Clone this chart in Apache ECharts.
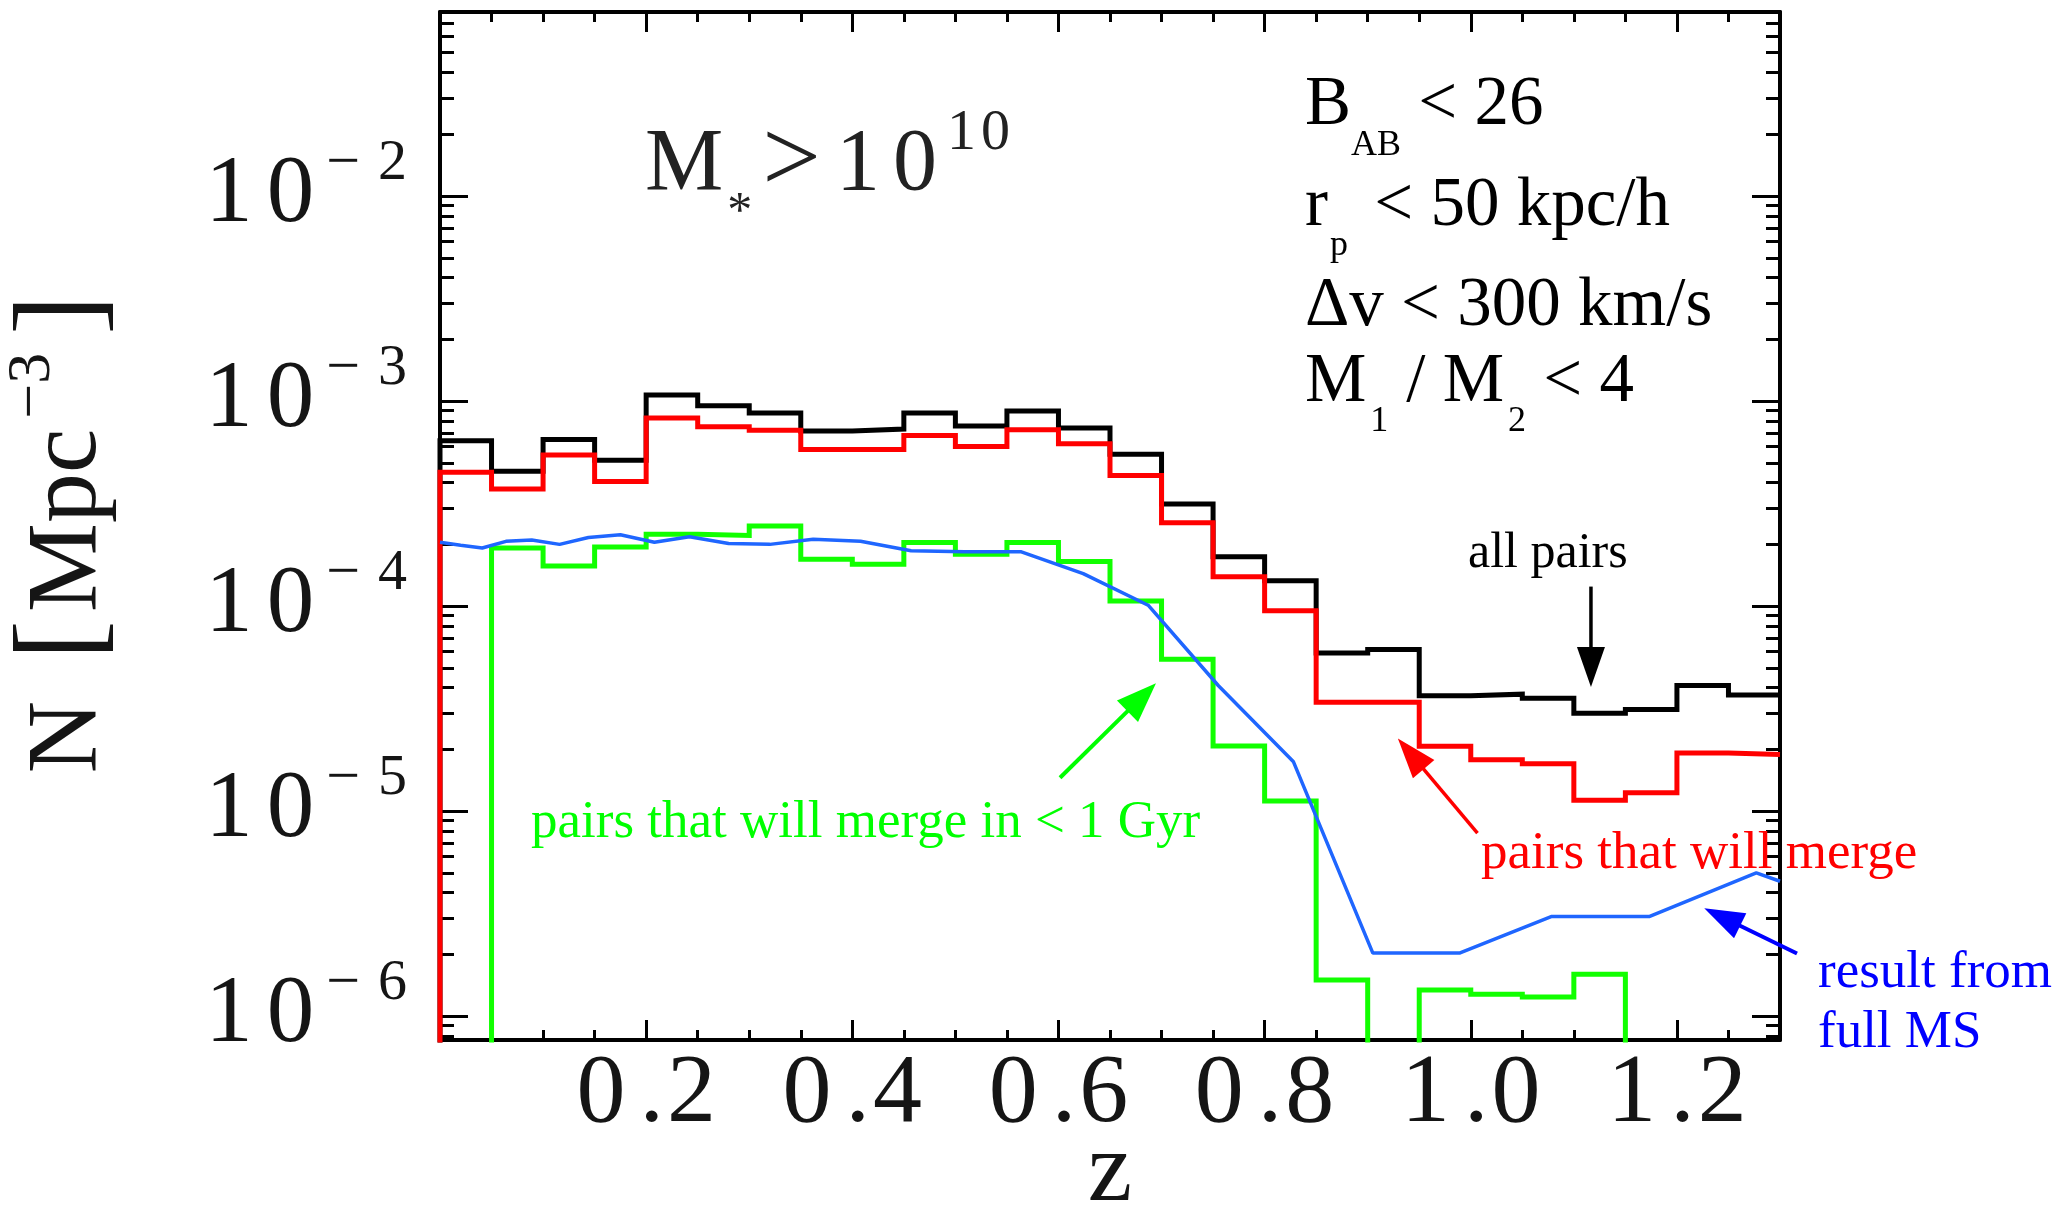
<!DOCTYPE html>
<html><head><meta charset="utf-8">
<script src="https://cdn.jsdelivr.net/npm/echarts@6/dist/echarts.min.js"></script>
<style>html,body{margin:0;padding:0;background:#fff}#c{width:2063px;height:1205px}</style>
</head><body><div id="c"></div>
<script>
// ---- data ----
const binEdges = [0,0.05,0.1,0.15,0.2,0.25,0.3,0.35,0.4,0.45,0.5,0.55,0.6,0.65,0.7,0.75,0.8,0.85,0.9,0.95,1.0,1.05,1.1,1.15,1.2,1.25];
const zMax = 1.3;
const allPairs  = [6.4e-4,4.55e-4,6.5e-4,5.15e-4,1.07e-3,9.5e-4,8.75e-4,7.15e-4,7.3e-4,8.75e-4,7.55e-4,8.95e-4,7.4e-4,5.5e-4,3.15e-4,1.74e-4,1.33e-4,5.9e-5,6.15e-5,3.65e-5,3.72e-5,3.55e-5,3.0e-5,3.13e-5,4.1e-5,3.68e-5];
const willMerge = [4.5e-4,3.72e-4,5.45e-4,4.05e-4,8.26e-4,7.5e-4,7.2e-4,5.8e-4,5.8e-4,6.8e-4,6.0e-4,7.25e-4,6.2e-4,4.33e-4,2.55e-4,1.39e-4,9.5e-5,3.4e-5,3.4e-5,2.07e-5,1.78e-5,1.7e-5,1.13e-5,1.23e-5,1.92e-5,1.89e-5];
const merge1Gyr = [0,1.92e-4,1.57e-4,1.94e-4,2.24e-4,2.21e-4,2.46e-4,1.69e-4,1.6e-4,2.04e-4,1.79e-4,2.04e-4,1.65e-4,1.06e-4,5.5e-5,2.08e-5,1.12e-5,1.5e-6,0,1.34e-6,1.28e-6,1.24e-6,1.6e-6,0,0,0];
const msZ = [0,0.020,0.041,0.064,0.089,0.116,0.144,0.175,0.208,0.242,0.280,0.320,0.362,0.408,0.457,0.509,0.564,0.624,0.687,0.755,0.828,0.905,0.989,1.078,1.173,1.277,1.30];
const msN = [2.05e-4,1.98e-4,1.92e-4,2.07e-4,2.10e-4,2.00e-4,2.16e-4,2.23e-4,2.05e-4,2.18e-4,2.02e-4,2.00e-4,2.12e-4,2.07e-4,1.86e-4,1.84e-4,1.84e-4,1.44e-4,1.01e-4,4.1e-5,1.74e-5,2.03e-6,2.03e-6,3.06e-6,3.06e-6,5.0e-6,4.55e-6];
const xMajorTicks = [0.2,0.4,0.6,0.8,1.0,1.2];
const xMinorTicks = [0.05,0.1,0.15,0.25,0.3,0.35,0.45,0.5,0.55,0.65,0.7,0.75,0.85,0.9,0.95,1.05,1.1,1.15,1.25];
const yMajorTicks = [1e-6,1e-5,1e-4,1e-3,1e-2];
const yMinorTicks = [8e-7,9e-7,
  2e-6,3e-6,4e-6,5e-6,6e-6,7e-6,8e-6,9e-6,
  2e-5,3e-5,4e-5,5e-5,6e-5,7e-5,8e-5,9e-5,
  2e-4,3e-4,4e-4,5e-4,6e-4,7e-4,8e-4,9e-4,
  2e-3,3e-3,4e-3,5e-3,6e-3,7e-3,8e-3,9e-3,
  2e-2,3e-2,4e-2,5e-2,6e-2,7e-2];
const yMin = 7.65e-7, yMax = 0.079;
// annotation arrows in data coordinates [tail, head]
const arrowAll   = [[1.1166,1.245e-4],[1.1166,4.03e-5]];
const arrowGyr   = [[0.6015,1.455e-5],[0.6946,4.21e-5]];
const arrowMerge = [[1.0065,7.82e-6],[0.9293,2.26e-5]];
const arrowMS    = [[1.3165,2.02e-6],[1.2265,3.36e-6]];

// ---- helpers ----
const FLOOR = 1e-9; // empty bins (drawn below the axis)
function stepData(vals){
  const d = [[0, FLOOR]];
  vals.forEach((v,i)=>d.push([binEdges[i], v>0?v:FLOOR]));
  const last = vals[vals.length-1];
  d.push([zMax, last>0?last:FLOOR]);
  return d;
}
const SERIF = '"Liberation Serif","DejaVu Serif",serif';
const BLACK = '#000';
const INK = '#151515';

function xAx(pos, ticks, len, main){
  const lab = main && pos==='bottom';
  return {type:'value', min:0, max:zMax, position:pos,
    axisLine:{show:!!main, onZero:false, lineStyle:{color:BLACK,width:4}},
    axisTick:{show:true, inside:true, length:len, customValues:ticks, lineStyle:{color:BLACK,width:3}},
    axisLabel: lab ? {show:true, customValues:xMajorTicks, margin:6,
        formatter:v=>{const s=v.toFixed(1); return '{d|'+s[0]+'}{p|.}{e|'+s[2]+'}';},
        rich:{d:{fontFamily:SERIF,fontSize:98,lineHeight:98,color:INK},
              p:{fontFamily:SERIF,fontSize:98,lineHeight:98,color:INK,padding:[0,0,0,14]},
              e:{fontFamily:SERIF,fontSize:98,lineHeight:98,color:INK,padding:[0,0,0,3]}}} : {show:false},
    splitLine:{show:false},
    name: lab ? 'z' : '',
    nameLocation:'middle', nameGap:84, nameMoveOverlap:false,
    nameTextStyle:{fontFamily:SERIF, fontSize:100, lineHeight:100, color:INK}
  };
}
function yAx(pos, ticks, len, main){
  const left = main && pos==='left';
  return {type:'log', logBase:10, min:yMin, max:yMax, position:pos,
    axisLine:{show:!!main, onZero:false, lineStyle:{color:BLACK,width:4}},
    axisTick:{show:true, inside:true, length:len, customValues:ticks, lineStyle:{color:BLACK,width:3}},
    axisLabel: left ? {show:true, customValues:yMajorTicks, margin:33,
        formatter:v=>'{a|1}{b|0}{m|\u2212}{e|'+Math.round(-Math.log10(v))+'}',
        rich:{a:{fontFamily:SERIF,fontSize:95,lineHeight:123,verticalAlign:'top',padding:[14,0,0,0],color:INK},
              b:{fontFamily:SERIF,fontSize:95,verticalAlign:'top',padding:[14,0,0,14],color:INK},
              m:{fontFamily:SERIF,fontSize:60,verticalAlign:'top',padding:[0,0,0,12],color:INK},
              e:{fontFamily:SERIF,fontSize:58,verticalAlign:'top',padding:[0,0,0,18],color:INK}}} : {show:false},
    splitLine:{show:false}, minorTick:{show:false}
  };
}

const chart = echarts.init(document.getElementById('c'), null, {renderer:'canvas'});
const lineBase = {type:'line', xAxisIndex:0, yAxisIndex:0, showSymbol:false, symbol:'none', step:'end', clip:true, animation:false};
chart.setOption({
  animation:false,
  backgroundColor:'#fff',
  grid:{left:440, top:12, width:1340, height:1028, containLabel:false, outerBoundsMode:'none'},
  xAxis:[xAx('bottom', xMajorTicks, 20, true), xAx('bottom', xMinorTicks, 10, false),
         xAx('top', xMajorTicks, 20, true), xAx('top', xMinorTicks, 10, false)],
  yAxis:[yAx('left', yMajorTicks, 28, true), yAx('left', yMinorTicks, 14, false),
         yAx('right', yMajorTicks, 28, true), yAx('right', yMinorTicks, 14, false)],
  series:[
    Object.assign({}, lineBase, {name:'all pairs', data:stepData(allPairs), lineStyle:{color:'#000', width:5, join:'miter', cap:'butt'}, z:3}),
    Object.assign({}, lineBase, {name:'pairs that will merge', data:stepData(willMerge), lineStyle:{color:'#ff0000', width:5, join:'miter', cap:'butt'}, z:4}),
    Object.assign({}, lineBase, {name:'pairs that will merge in < 1 Gyr', data:stepData(merge1Gyr), lineStyle:{color:'#11ff00', width:5, join:'miter', cap:'butt'}, z:5}),
    {type:'line', name:'result from full MS', xAxisIndex:0, yAxisIndex:0, showSymbol:false, symbol:'none', clip:true, animation:false,
     data:msZ.map((z,i)=>[z,msN[i]]), lineStyle:{color:'#1f66ff', width:3.5}, z:6}
  ]
});

function conv(p){ return chart.convertToPixel({xAxisIndex:0, yAxisIndex:0}, p); }
function arrow(pair, color, lw, headLen, headW){
  const p0 = conv(pair[0]), p1 = conv(pair[1]);
  const dx = p1[0]-p0[0], dy = p1[1]-p0[1], L = Math.hypot(dx,dy), ux = dx/L, uy = dy/L;
  const bx = p1[0]-ux*headLen, by = p1[1]-uy*headLen, nx = -uy, ny = ux;
  return [
    {type:'line', z:20, shape:{x1:p0[0],y1:p0[1],x2:bx+ux*3,y2:by+uy*3}, style:{stroke:color, lineWidth:lw}},
    {type:'polygon', z:20, shape:{points:[[p1[0],p1[1]],[bx+nx*headW/2,by+ny*headW/2],[bx-nx*headW/2,by-ny*headW/2]]}, style:{fill:color}}
  ];
}
function txt(x, y, text, rich, extra){
  return {type:'text', z:30, style:Object.assign({x:x, y:y, text:text, rich:rich, verticalAlign:'top', align:'left'}, extra||{})};
}
const SUBP = 55.6;
const condRich = {
  b:{fontFamily:SERIF, fontSize:69, verticalAlign:'top', fill:'#000'},
  s:{fontFamily:SERIF, fontSize:36, verticalAlign:'top', padding:[SUBP,0,0,0], fill:'#000'},
  sp:{fontFamily:SERIF, fontSize:36, verticalAlign:'top', padding:[SUBP,9,0,2], fill:'#000'},
  s1:{fontFamily:SERIF, fontSize:36, verticalAlign:'top', padding:[SUBP,18,0,4], fill:'#000'},
  s0:{fontFamily:SERIF, fontSize:36, verticalAlign:'top', padding:[SUBP,0,0,4], fill:'#000'}
};
const mRich = {
  b:{fontFamily:SERIF, fontSize:88, verticalAlign:'top', padding:[22,0,0,0], fill:'#222'},
  one:{fontFamily:SERIF, fontSize:88, verticalAlign:'top', padding:[22,0,0,15], fill:'#222'},
  zero:{fontFamily:SERIF, fontSize:88, verticalAlign:'top', padding:[22,0,0,13], fill:'#222'},
  gt:{fontFamily:SERIF, fontSize:104, verticalAlign:'top', padding:[12,0,0,10], fill:'#222'},
  sub:{fontFamily:SERIF, fontSize:50, verticalAlign:'top', padding:[88,0,0,4], fill:'#222'},
  sa:{fontFamily:SERIF, fontSize:58, verticalAlign:'top', padding:[5,0,0,10], fill:'#222'},
  sb:{fontFamily:SERIF, fontSize:58, verticalAlign:'top', padding:[5,0,0,5], fill:'#222'}
};
const yTitleRich = {
  n:{fontFamily:SERIF,fontSize:100,verticalAlign:'top',padding:[17,0,0,0],fill:INK},
  b:{fontFamily:SERIF,fontSize:100,verticalAlign:'top',padding:[17,0,0,8],fill:INK},
  bl:{fontFamily:SERIF,fontSize:120,verticalAlign:'top',padding:[3,0,0,16],fill:INK},
  br:{fontFamily:SERIF,fontSize:120,verticalAlign:'top',padding:[3,0,0,18],fill:INK},
  sup:{fontFamily:SERIF,fontSize:62,verticalAlign:'top',padding:[0,0,0,10],fill:INK}
};
const graphics = [].concat(
  arrow(arrowAll, '#000', 3.5, 40, 28),
  arrow(arrowGyr, '#00ff00', 4, 40, 30),
  arrow(arrowMerge, '#ff0000', 3.5, 40, 28),
  arrow(arrowMS, '#0000ff', 4, 40, 28),
  [
    {type:'text', z:30, x:2, y:534, rotation:Math.PI/2,
     style:{x:0, y:0, text:'{n|N }{bl|[}{b|Mpc}{sup|\u22123}{br|]}', rich:yTitleRich, align:'center', verticalAlign:'top'}},
    txt(645, 100, '{b|M}{sub|*}{gt|>}{one|1}{zero|0}{sa|1}{sb|0}', mRich),
    txt(1305, 71.7, '{b|B}{s|AB}{b| < 26}', condRich),
    txt(1305, 172.2, '{b|r}{sp|p}{b| < 50 kpc/h}', condRich),
    txt(1305, 272.5, '{b|\u0394v < 300 km/s}', condRich),
    txt(1305, 348.2, '{b|M}{s1|1}{b|/ M}{s0|2}{b| < 4}', condRich),
    txt(1468, 528.5, 'all pairs', null, {fontFamily:SERIF, fontSize:50, lineHeight:50, fill:'#000'}),
    txt(531, 796.5, 'pairs that will merge in < 1 Gyr', null, {fontFamily:SERIF, fontSize:53, lineHeight:53, fill:'#00ff00'}),
    txt(1481, 827.5, 'pairs that will merge', null, {fontFamily:SERIF, fontSize:53, lineHeight:53, fill:'#ff0000'}),
    txt(1818, 943, 'result from\nfull MS', null, {fontFamily:SERIF, fontSize:53, lineHeight:60, fill:'#0000ff'})
  ]
);
chart.setOption({graphic: graphics});
</script></body></html>
